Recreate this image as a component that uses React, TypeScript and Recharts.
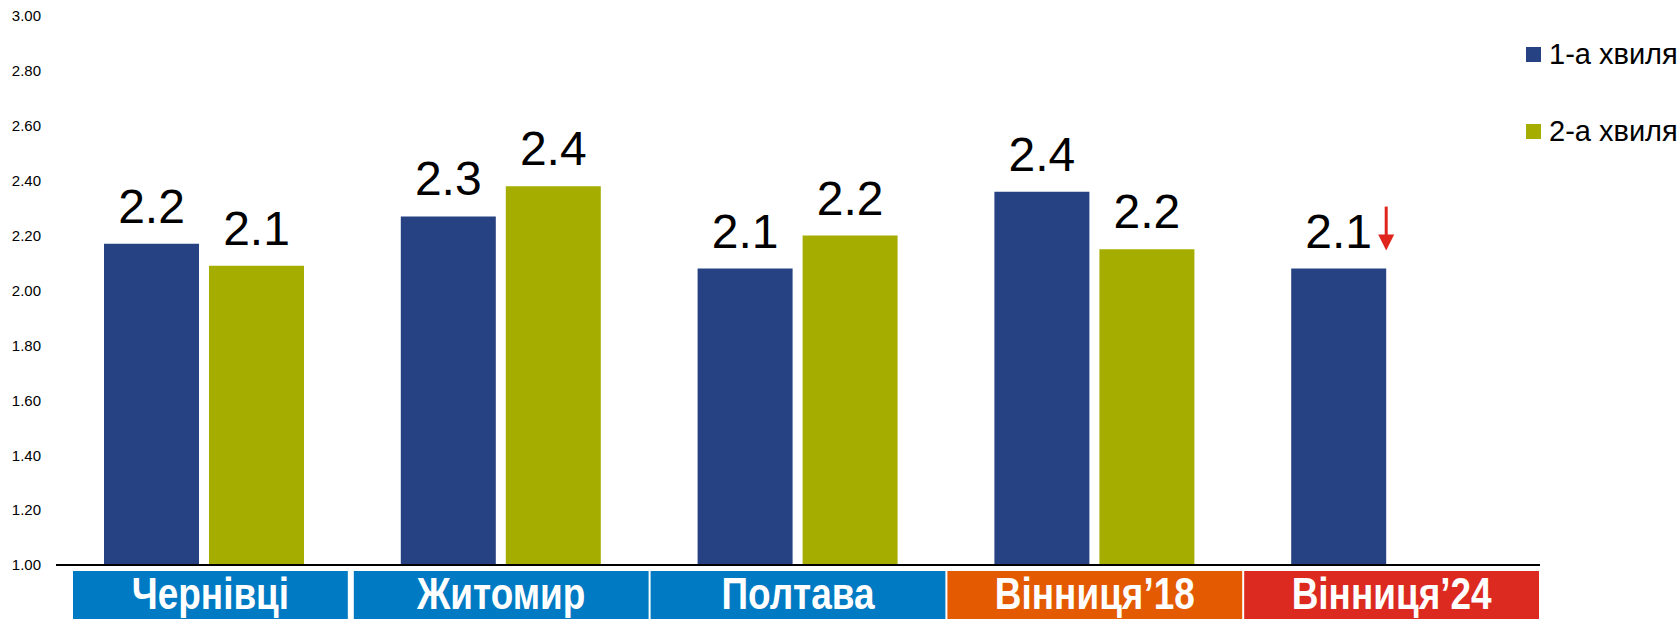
import React from "react";
import { BarChart, Bar, XAxis, YAxis, Legend, LabelList } from "recharts";

const categories = ["Чернівці", "Житомир", "Полтава", "Вінниця’18", "Вінниця’24"];
const wave1 = [2.17, 2.27, 2.08, 2.36, 2.08];
const wave2: (number | null)[] = [2.09, 2.38, 2.2, 2.15, null];
const categoryColors = ["#007bc3", "#007bc3", "#007bc3", "#e35a00", "#dc2a20"];
const downArrow = [false, false, false, false, true];
const yTicks = [1, 1.2, 1.4, 1.6, 1.8, 2, 2.2, 2.4, 2.6, 2.8, 3];
const seriesNames = ["1-а хвиля", "2-а хвиля"];
const seriesColors = ["#264283", "#a5ae00"];

const data = categories.map((c, i) => ({ category: c, w1: wave1[i], w2: wave2[i] }));

const W = 1680;
const H = 619;
const MARGIN = { top: 16, right: 140, bottom: 0, left: 0 };
const Y_W = 56;
const X_H = 54;
const FONT = "'Liberation Sans', Arial, sans-serif";
const BAND = (W - MARGIN.left - MARGIN.right - Y_W) / categories.length;
const FIRST_BOX_INSET = 16;

const fmt = (v: number) => (Math.round(v * 10 + 1e-6) / 10).toFixed(1);

const CategoryTick = (props: any) => {
  const { x, y, payload, index } = props;
  let left = x - BAND / 2 + 1;
  let right = x + BAND / 2 - 1;
  if (index === 0) left += FIRST_BOX_INSET;
  if (index === 0) right -= 4;
  const w = right - left;
  const cx = (left + right) / 2;
  return (
    <g>
      <rect x={left} y={y + 6} width={w} height={60} fill={categoryColors[index]} />
      <text
        transform={`translate(${cx},${y + 44}) scale(0.84,1)`}
        x={0}
        y={0}
        textAnchor="middle"
        fill="#fff"
        fontSize={44}
        fontWeight="bold"
        fontFamily={FONT}
      >
        {payload.value}
      </text>
    </g>
  );
};

const makeLabel = (withArrow: boolean) => (props: any) => {
  const { x, y, width, value, index } = props;
  if (value === null || value === undefined) return null;
  const cx = x + width / 2;
  const showArrow = withArrow && downArrow[index];
  const ax = x + width;
  return (
    <g>
      <text x={cx} y={y - 21} textAnchor="middle" fontSize={48} fill="#000" fontFamily={FONT}>
        {fmt(value)}
      </text>
      {showArrow && (
        <g>
          <line x1={ax} x2={ax} y1={y - 62} y2={y - 30} stroke="#e0261c" strokeWidth={3} />
          <polygon points={`${ax - 8},${y - 34} ${ax + 8},${y - 34} ${ax},${y - 18}`} fill="#e0261c" />
        </g>
      )}
    </g>
  );
};

const LegendContent = () => (
  <div style={{ fontFamily: FONT, fontSize: 29, color: "#000" }}>
    {seriesNames.map((n, i) => (
      <div
        key={n}
        style={{ display: "flex", alignItems: "center", height: 30, marginBottom: i === 0 ? 47 : 0, whiteSpace: "nowrap" }}
      >
        <span style={{ display: "inline-block", width: 15, height: 15, background: seriesColors[i], marginRight: 8, flexShrink: 0 }} />
        <span>{n}</span>
      </div>
    ))}
  </div>
);

export default function App() {
  return (
    <div style={{ position: "absolute", left: 0, top: 0, width: W, height: H, background: "#fff", overflow: "hidden" }}>
      <BarChart width={W} height={H} data={data} margin={MARGIN} barCategoryGap={48} barGap={10}>
        <YAxis
          width={Y_W}
          domain={[1, 3]}
          ticks={yTicks}
          type="number"
          allowDataOverflow
          axisLine={false}
          tickLine={false}
          tickSize={0}
          tickMargin={15}
          tickFormatter={(v: number) => v.toFixed(2)}
          tick={{ fontSize: 15, fill: "#000", fontFamily: FONT }}
        />
        <XAxis
          dataKey="category"
          height={X_H}
          interval={0}
          tickLine={false}
          tickSize={0}
          tickMargin={0}
          axisLine={{ stroke: "#000", strokeWidth: 2 }}
          tick={<CategoryTick />}
        />
        <Legend
          verticalAlign="middle"
          align="center"
          layout="vertical"
          content={<LegendContent />}
          wrapperStyle={{ position: "absolute", left: 1526, top: 39, width: 154 }}
        />
        <Bar dataKey="w1" name={seriesNames[0]} fill={seriesColors[0]} isAnimationActive={false}>
          <LabelList dataKey="w1" content={makeLabel(true)} />
        </Bar>
        <Bar dataKey="w2" name={seriesNames[1]} fill={seriesColors[1]} isAnimationActive={false}>
          <LabelList dataKey="w2" content={makeLabel(false)} />
        </Bar>
      </BarChart>
    </div>
  );
}
